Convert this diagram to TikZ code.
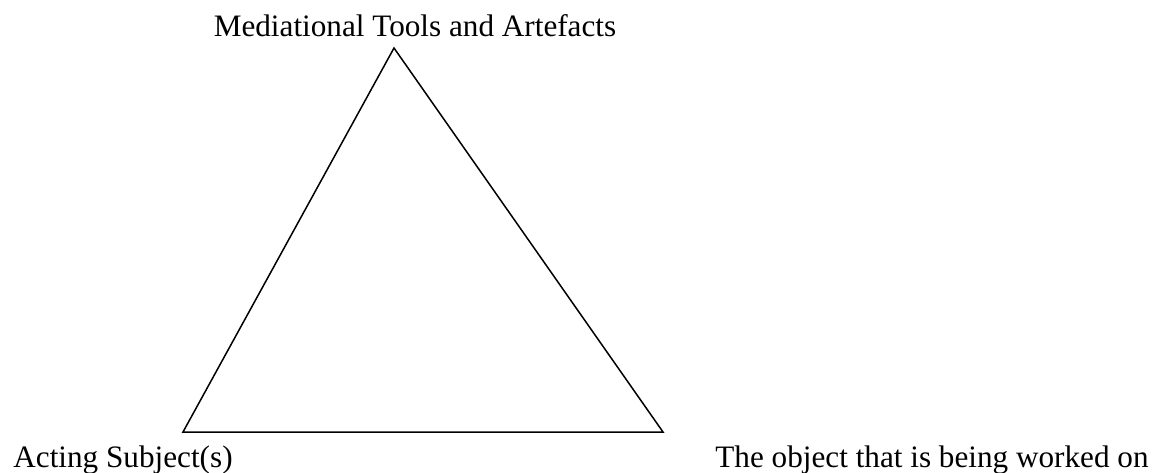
\documentclass[tikz,border=0pt]{standalone}
\usepackage{fontspec}
\setmainfont{Liberation Serif}
\begin{document}
\begin{tikzpicture}[x=0.5pt,y=-0.5pt,
  label/.style={inner sep=0pt, font=\fontsize{15.6pt}{18pt}\selectfont},
  edge/.style={draw=black, line width=0.75pt, line join=miter}]
  \useasboundingbox (0,0) rectangle (1173,472);
  % triangle corners
  \coordinate (tools) at (394,48);
  \coordinate (subject) at (183,432);
  \coordinate (object) at (663,432);
  \draw[edge] (tools) -- (subject) -- (object) -- cycle;
  % corner labels
  \node[label, anchor=base] (toolslabel) at (415,36) {Mediational Tools and Artefacts};
  \node[label, anchor=base west] (subjectlabel) at (13,467) {Acting Subject(s)};
  \node[label, anchor=base west] (objectlabel) at (715,467) {The object that is being worked on};
\end{tikzpicture}
\end{document}
